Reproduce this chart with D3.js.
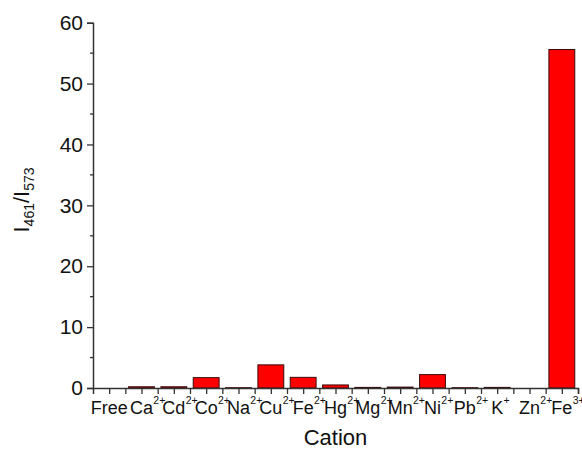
<!DOCTYPE html>
<html lang="en">
<head>
  <meta charset="UTF-8">
  <title>cation ratio</title>
  <script src="https://d3js.org/d3.v7.min.js"></script>
  <style>
    body { margin: 0; background: #fff; }
    text { font-family: Arial, "Liberation Sans", sans-serif; fill: #111; }
  </style>
</head>
<body>
  <svg id="chart" width="582" height="449"></svg>

  <script>
    // data
    const ions = ["Free", "Ca", "Cd", "Co", "Na", "Cu", "Fe", "Hg", "Mg", "Mn", "Ni", "Pb", "K", "Zn", "Fe"];
    const charges = ["", "2+", "2+", "2+", "2+", "2+", "2+", "2+", "2+", "2+", "2+", "2+", "+", "2+", "3+"];
    const ratios = [0, 0.2, 0.2, 1.7, 0.05, 3.8, 1.75, 0.5, 0.1, 0.15, 2.2, 0.05, 0.1, 0, 55.6];
    const yTicks = [0, 10, 20, 30, 40, 50, 60];

    const svg = d3.select("#chart");
    const plotL = 93, plotR = 578, plotT = 22.7, plotB = 388;
    const axisColor = "#333";

    // categories sit at 1..15, axis runs 0.5..15.5 like Origin does it
    const x = d3.scaleLinear().domain([0.5, 15.5]).range([plotL, plotR]);
    const y = d3.scaleLinear().domain([0, 60]).range([plotB, plotT]);
    const barW = (x(1) - x(0)) * 0.8;

    // bars
    svg.append("g").selectAll("rect").data(ratios)
      .join("rect")
      .attr("x", (d, i) => x(i + 1) - barW / 2)
      .attr("width", barW)
      .attr("y", d => y(d))
      .attr("height", d => y(0) - y(d))
      .attr("fill", "#ff0000")
      .attr("stroke", "#3a0a0a")
      .attr("stroke-width", 1);

    // y axis
    const yAxis = svg.append("g").attr("transform", `translate(${plotL},0)`)
      .call(d3.axisLeft(y).tickValues(yTicks).tickSize(6).tickPadding(4));
    yAxis.selectAll("text").style("font-size", "21px");
    yAxis.append("g").selectAll("line").data(d3.range(5, 60, 10))
      .join("line")
      .attr("x1", -3).attr("x2", 0)
      .attr("y1", d => y(d)).attr("y2", d => y(d));

    // x axis: ticks at centres and between bars
    const xAxis = svg.append("g").attr("transform", `translate(0,${plotB})`)
      .call(d3.axisBottom(x).tickValues(d3.range(1, 31).map(k => 0.5 + k * 0.5)).tickSize(6).tickFormat(""));

    [yAxis, xAxis].forEach(g => {
      g.select(".domain").attr("stroke", axisColor).attr("stroke-width", 1.5);
      g.selectAll(".tick line, line").attr("stroke", axisColor).attr("stroke-width", 1.3);
    });

    // x tick labels with superscript charges
    const lab = svg.append("g");
    ions.forEach((name, i) => {
      const t = lab.append("text")
        .attr("x", x(i + 1)).attr("y", 414)
        .attr("text-anchor", "middle")
        .style("font-size", "18px")
        .text(name);
      const w = t.node().getComputedTextLength();
      if (charges[i]) {
        lab.append("text")
          .attr("x", x(i + 1) + w / 2 + 0.3).attr("y", 404)
          .style("font-size", "10.5px")
          .text(charges[i]);
      }
    });

    // axis titles
    svg.append("text")
      .attr("x", (plotL + plotR) / 2).attr("y", 445)
      .attr("text-anchor", "middle")
      .style("font-size", "22px")
      .text("Cation");

    const yt = svg.append("text")
      .attr("transform", "translate(29,200) rotate(-90)")
      .attr("text-anchor", "middle")
      .style("font-size", "22px");
    yt.append("tspan").text("I");
    yt.append("tspan").attr("dy", 5).style("font-size", "14px").text("461");
    yt.append("tspan").attr("dy", -5).text("/I");
    yt.append("tspan").attr("dy", 5).style("font-size", "14px").text("573");
  </script>
</body>
</html>
